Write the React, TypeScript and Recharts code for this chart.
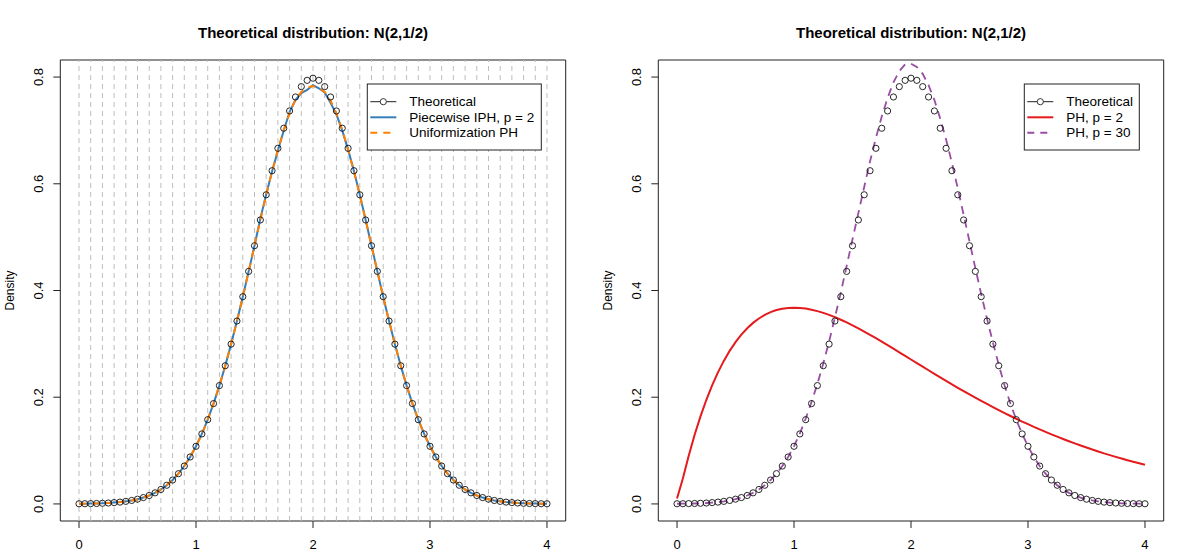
import { LineChart, Line, XAxis, YAxis, ReferenceLine, ReferenceArea } from "recharts";

const FONT = "'Liberation Sans', Arial, Helvetica, sans-serif";

// evaluation grid, x = 0 .. 4 by 0.05
const xs = [
  0, 0.05, 0.1, 0.15, 0.2, 0.25, 0.3, 0.35, 0.4, 0.45, 0.5, 0.55, 0.6, 0.65, 0.7, 0.75, 0.8, 0.85, 0.9, 0.95,
  1, 1.05, 1.1, 1.15, 1.2, 1.25, 1.3, 1.35, 1.4, 1.45, 1.5, 1.55, 1.6, 1.65, 1.7, 1.75, 1.8, 1.85, 1.9, 1.95,
  2, 2.05, 2.1, 2.15, 2.2, 2.25, 2.3, 2.35, 2.4, 2.45, 2.5, 2.55, 2.6, 2.65, 2.7, 2.75, 2.8, 2.85, 2.9, 2.95,
  3, 3.05, 3.1, 3.15, 3.2, 3.25, 3.3, 3.35, 3.4, 3.45, 3.5, 3.55, 3.6, 3.65, 3.7, 3.75, 3.8, 3.85, 3.9, 3.95,
  4,
];

// theoretical N(2, 1/2) density (circles)
const theoretical = [
  0.0003, 0.0004, 0.0006, 0.0008, 0.0012, 0.0017, 0.0025, 0.0034, 0.0048, 0.0065, 0.0089, 0.0119, 0.0158, 0.0208,
  0.0271, 0.035, 0.0448, 0.0567, 0.071, 0.088, 0.108, 0.1312, 0.1579, 0.1881, 0.2218, 0.259, 0.2995, 0.3428,
  0.3884, 0.4358, 0.4839, 0.5322, 0.5794, 0.6245, 0.6665, 0.7041, 0.7365, 0.7627, 0.7821, 0.7939, 0.7979,
  0.7939, 0.7821, 0.7627, 0.7365, 0.7041, 0.6665, 0.6245, 0.5794, 0.5322, 0.4839, 0.4358, 0.3884, 0.3428,
  0.2995, 0.259, 0.2218, 0.1881, 0.1579, 0.1312, 0.108, 0.088, 0.071, 0.0567, 0.0448, 0.035, 0.0271, 0.0208,
  0.0158, 0.0119, 0.0089, 0.0065, 0.0048, 0.0034, 0.0025, 0.0017, 0.0012, 0.0008, 0.0006, 0.0004, 0.0003,
];

// piecewise IPH, p = 2
const piecewiseIph = [
  0.0003, 0.0004, 0.0006, 0.0008, 0.0012, 0.0017, 0.0025, 0.0034, 0.0048, 0.0065, 0.0089, 0.0119, 0.0158, 0.0208,
  0.0271, 0.035, 0.0448, 0.0567, 0.071, 0.088, 0.108, 0.1312, 0.1579, 0.1881, 0.2218, 0.259, 0.2995, 0.3428,
  0.3884, 0.4358, 0.4839, 0.535, 0.58, 0.623, 0.662, 0.7, 0.735, 0.757, 0.77, 0.776, 0.785,
  0.779, 0.771, 0.752, 0.73, 0.7, 0.664, 0.624, 0.5794, 0.5322, 0.4839, 0.4358, 0.3884, 0.3428,
  0.2995, 0.259, 0.2218, 0.1881, 0.1579, 0.1312, 0.108, 0.088, 0.071, 0.0567, 0.0448, 0.035, 0.0271, 0.0208,
  0.0158, 0.0119, 0.0089, 0.0065, 0.0048, 0.0034, 0.0025, 0.0017, 0.0012, 0.0008, 0.0006, 0.0004, 0.0003,
];

// uniformization PH
const uniformizationPh = [
  0.0003, 0.0004, 0.0006, 0.0008, 0.0012, 0.0017, 0.0025, 0.0034, 0.0048, 0.0065, 0.0089, 0.0119, 0.0158, 0.0208,
  0.0271, 0.035, 0.0448, 0.0567, 0.071, 0.088, 0.108, 0.1312, 0.1579, 0.1881, 0.2218, 0.259, 0.2995, 0.3428,
  0.3884, 0.4358, 0.4839, 0.532, 0.579, 0.623, 0.664, 0.701, 0.732, 0.758, 0.772, 0.78, 0.783,
  0.78, 0.772, 0.756, 0.732, 0.701, 0.664, 0.623, 0.579, 0.532, 0.4839, 0.4358, 0.3884, 0.3428,
  0.2995, 0.259, 0.2218, 0.1881, 0.1579, 0.1312, 0.108, 0.088, 0.071, 0.0567, 0.0448, 0.035, 0.0271, 0.0208,
  0.0158, 0.0119, 0.0089, 0.0065, 0.0048, 0.0034, 0.0025, 0.0017, 0.0012, 0.0008, 0.0006, 0.0004, 0.0003,
];

// PH, p = 2
const ph2 = [
  0.01, 0.0476, 0.0905, 0.1291, 0.1637, 0.1947, 0.2222, 0.2466, 0.2681, 0.2869, 0.3033, 0.3173, 0.3293, 0.3393,
  0.3476, 0.3543, 0.3595, 0.3633, 0.3659, 0.3674, 0.3679, 0.3674, 0.3662, 0.3641, 0.3614, 0.3581, 0.3543, 0.35,
  0.3452, 0.3401, 0.3347, 0.329, 0.323, 0.3169, 0.3106, 0.3041, 0.2975, 0.2909, 0.2842, 0.2775, 0.2707,
  0.2639, 0.2572, 0.2505, 0.2438, 0.2372, 0.2306, 0.2242, 0.2177, 0.2114, 0.2052, 0.1991, 0.1931, 0.1873,
  0.1815, 0.1758, 0.1703, 0.1648, 0.1596, 0.1544, 0.1494, 0.1444, 0.1397, 0.135, 0.1304, 0.1261, 0.1217, 0.1175,
  0.1135, 0.1095, 0.1057, 0.1019, 0.0984, 0.0948, 0.0915, 0.0882, 0.085, 0.082, 0.0789, 0.0761, 0.0733,
];

// PH, p = 30
const ph30 = [
  0.0003, 0.0004, 0.0006, 0.0008, 0.0012, 0.0017, 0.0025, 0.0034, 0.0048, 0.0065, 0.0089, 0.0119, 0.0158, 0.0208,
  0.0271, 0.035, 0.0448, 0.0567, 0.071, 0.088, 0.108, 0.132, 0.16, 0.191, 0.225, 0.263, 0.3045, 0.35,
  0.396, 0.446, 0.496, 0.545, 0.594, 0.642, 0.686, 0.726, 0.761, 0.79, 0.811, 0.824, 0.825,
  0.819, 0.806, 0.785, 0.757, 0.722, 0.683, 0.639, 0.591, 0.542, 0.492, 0.442, 0.393, 0.347,
  0.3025, 0.261, 0.2218, 0.1881, 0.1579, 0.1312, 0.108, 0.088, 0.071, 0.0567, 0.0448, 0.035, 0.0271, 0.0208,
  0.0158, 0.0119, 0.0089, 0.0065, 0.0048, 0.0034, 0.0025, 0.0017, 0.0012, 0.0008, 0.0006, 0.0004, 0.0003,
];

const xTicks = [0, 1, 2, 3, 4];
const yTicks = [0, 0.2, 0.4, 0.6, 0.8];
const gridXs = [
  0, 0.1, 0.2, 0.3, 0.4, 0.5, 0.6, 0.7, 0.8, 0.9, 1, 1.1, 1.2, 1.3, 1.4, 1.5, 1.6, 1.7, 1.8, 1.9, 2,
  2.1, 2.2, 2.3, 2.4, 2.5, 2.6, 2.7, 2.8, 2.9, 3, 3.1, 3.2, 3.3, 3.4, 3.5, 3.6, 3.7, 3.8, 3.9, 4,
];

const title = "Theoretical distribution: N(2,1/2)";

const leftData = xs.map((x, i) => ({ x, theo: theoretical[i], iph: piecewiseIph[i], unif: uniformizationPh[i] }));
const rightData = xs.map((x, i) => ({ x, theo: theoretical[i], ph2: ph2[i], ph30: ph30[i] }));

const X_DOMAIN = [-0.16, 4.16];
const Y_DOMAIN = [-0.032, 0.832];
const W = 598;
const H = 559;
const MARGIN = { top: 60, right: 32.3, bottom: 0, left: 0 };

const XTick = (props: any) => {
  const { x, y, payload } = props;
  return (
    <g>
      <line x1={x} x2={x} y1={y} y2={y + 7} stroke="#222" />
      <text x={x} y={y + 28} textAnchor="middle" fontSize={13} fontFamily={FONT} fill="#000">
        {payload.value}
      </text>
    </g>
  );
};

const YTick = (props: any) => {
  const { x, y, payload } = props;
  const tx = x - 22;
  return (
    <g>
      <line x1={x - 7} x2={x} y1={y} y2={y} stroke="#222" />
      <text
        x={tx}
        y={y}
        transform={`rotate(-90, ${tx}, ${y})`}
        textAnchor="middle"
        dominantBaseline="central"
        fontSize={13}
        fontFamily={FONT}
        fill="#000"
      >
        {payload.value.toFixed(1)}
      </text>
    </g>
  );
};

const circleDot = { r: 3.1, fill: "none", stroke: "#111", strokeWidth: 0.9 };

const axes = [
  <XAxis
    key="x"
    dataKey="x"
    type="number"
    domain={X_DOMAIN}
    allowDataOverflow
    ticks={xTicks}
    interval={0}
    axisLine={false}
    tickLine={false}
    tickSize={0}
    tickMargin={0}
    height={38}
    tick={<XTick />}
  />,
  <YAxis
    key="y"
    type="number"
    domain={Y_DOMAIN}
    allowDataOverflow
    ticks={yTicks}
    interval={0}
    axisLine={false}
    tickLine={false}
    tickSize={0}
    tickMargin={0}
    width={60.3}
    tick={<YTick />}
  />,
];

function LeftPlot() {
  return (
    <LineChart width={W} height={H} data={leftData} margin={MARGIN}>
      {axes}
      {gridXs.map((g) => (
        <ReferenceLine key={g} x={g} stroke="#bdbdbd" strokeDasharray="5 4" />
      ))}
      <Line dataKey="theo" stroke="none" dot={circleDot} activeDot={false} isAnimationActive={false} />
      <Line dataKey="iph" stroke="#377EB8" strokeWidth={2} dot={false} activeDot={false} isAnimationActive={false} />
      <Line
        dataKey="unif"
        stroke="#FF7F00"
        strokeWidth={2}
        strokeDasharray="7 6"
        dot={false}
        activeDot={false}
        isAnimationActive={false}
      />
      <ReferenceArea x1={X_DOMAIN[0]} x2={X_DOMAIN[1]} y1={Y_DOMAIN[0]} y2={Y_DOMAIN[1]} fill="none" stroke="#222" fillOpacity={0} />
    </LineChart>
  );
}

function RightPlot() {
  return (
    <LineChart width={W} height={H} data={rightData} margin={MARGIN}>
      {axes}
      <Line dataKey="theo" stroke="none" dot={circleDot} activeDot={false} isAnimationActive={false} />
      <Line dataKey="ph2" stroke="#E41A1C" strokeWidth={2} dot={false} activeDot={false} isAnimationActive={false} />
      <Line
        dataKey="ph30"
        stroke="#984EA3"
        strokeWidth={1.8}
        strokeDasharray="8 6"
        dot={false}
        activeDot={false}
        isAnimationActive={false}
      />
      <ReferenceArea x1={X_DOMAIN[0]} x2={X_DOMAIN[1]} y1={Y_DOMAIN[0]} y2={Y_DOMAIN[1]} fill="none" stroke="#222" fillOpacity={0} />
    </LineChart>
  );
}

type Item = { label: string; kind: "point" | "line" | "dash"; color: string };

function LegendBox({ x, y, w, h, items }: { x: number; y: number; w: number; h: number; items: Item[] }) {
  const rows = [101.7, 117.3, 132.7];
  return (
    <g>
      <rect x={x} y={y} width={w} height={h} fill="#fff" stroke="#222" />
      {items.map((it, i) => {
        const ry = rows[i];
        const x1 = x + 3;
        const x2 = x + 29;
        return (
          <g key={it.label}>
            {it.kind === "point" && (
              <>
                <line x1={x1} x2={x2} y1={ry} y2={ry} stroke="#222" />
                <circle cx={(x1 + x2) / 2} cy={ry} r={3.1} fill="#fff" stroke="#222" strokeWidth={0.9} />
              </>
            )}
            {it.kind === "line" && <line x1={x1} x2={x2} y1={ry} y2={ry} stroke={it.color} strokeWidth={2} />}
            {it.kind === "dash" && (
              <line x1={x1} x2={x2} y1={ry} y2={ry} stroke={it.color} strokeWidth={2} strokeDasharray="7 6" />
            )}
            <text x={x + 42} y={ry} dominantBaseline="central" fontSize={13.5} fontFamily={FONT} fill="#000">
              {it.label}
            </text>
          </g>
        );
      })}
    </g>
  );
}

export default function App() {
  return (
    <div style={{ position: "absolute", left: 0, top: 0, width: 1196, height: 559, background: "#fff" }}>
      <div style={{ position: "absolute", left: 0, top: 0 }}>
        <LeftPlot />
      </div>
      <div style={{ position: "absolute", left: W, top: 0 }}>
        <RightPlot />
      </div>
      <svg
        width={1196}
        height={559}
        style={{ position: "absolute", left: 0, top: 0, pointerEvents: "none" }}
      >
        <text x={313} y={32} textAnchor="middle" dominantBaseline="central" fontSize={15} fontWeight="bold" fontFamily={FONT}>
          {title}
        </text>
        <text x={911} y={32} textAnchor="middle" dominantBaseline="central" fontSize={15} fontWeight="bold" fontFamily={FONT}>
          {title}
        </text>
        <text
          x={10}
          y={290.5}
          transform="rotate(-90, 10, 290.5)"
          textAnchor="middle"
          dominantBaseline="central"
          fontSize={12}
          fontFamily={FONT}
        >
          Density
        </text>
        <text
          x={608}
          y={290.5}
          transform="rotate(-90, 608, 290.5)"
          textAnchor="middle"
          dominantBaseline="central"
          fontSize={12}
          fontFamily={FONT}
        >
          Density
        </text>
        <LegendBox
          x={367.3}
          y={84}
          w={174}
          h={66}
          items={[
            { label: "Theoretical", kind: "point", color: "#222" },
            { label: "Piecewise IPH, p = 2", kind: "line", color: "#377EB8" },
            { label: "Uniformization PH", kind: "dash", color: "#FF7F00" },
          ]}
        />
        <LegendBox
          x={1024.3}
          y={84}
          w={115}
          h={66}
          items={[
            { label: "Theoretical", kind: "point", color: "#222" },
            { label: "PH, p = 2", kind: "line", color: "#E41A1C" },
            { label: "PH, p = 30", kind: "dash", color: "#984EA3" },
          ]}
        />
      </svg>
    </div>
  );
}
